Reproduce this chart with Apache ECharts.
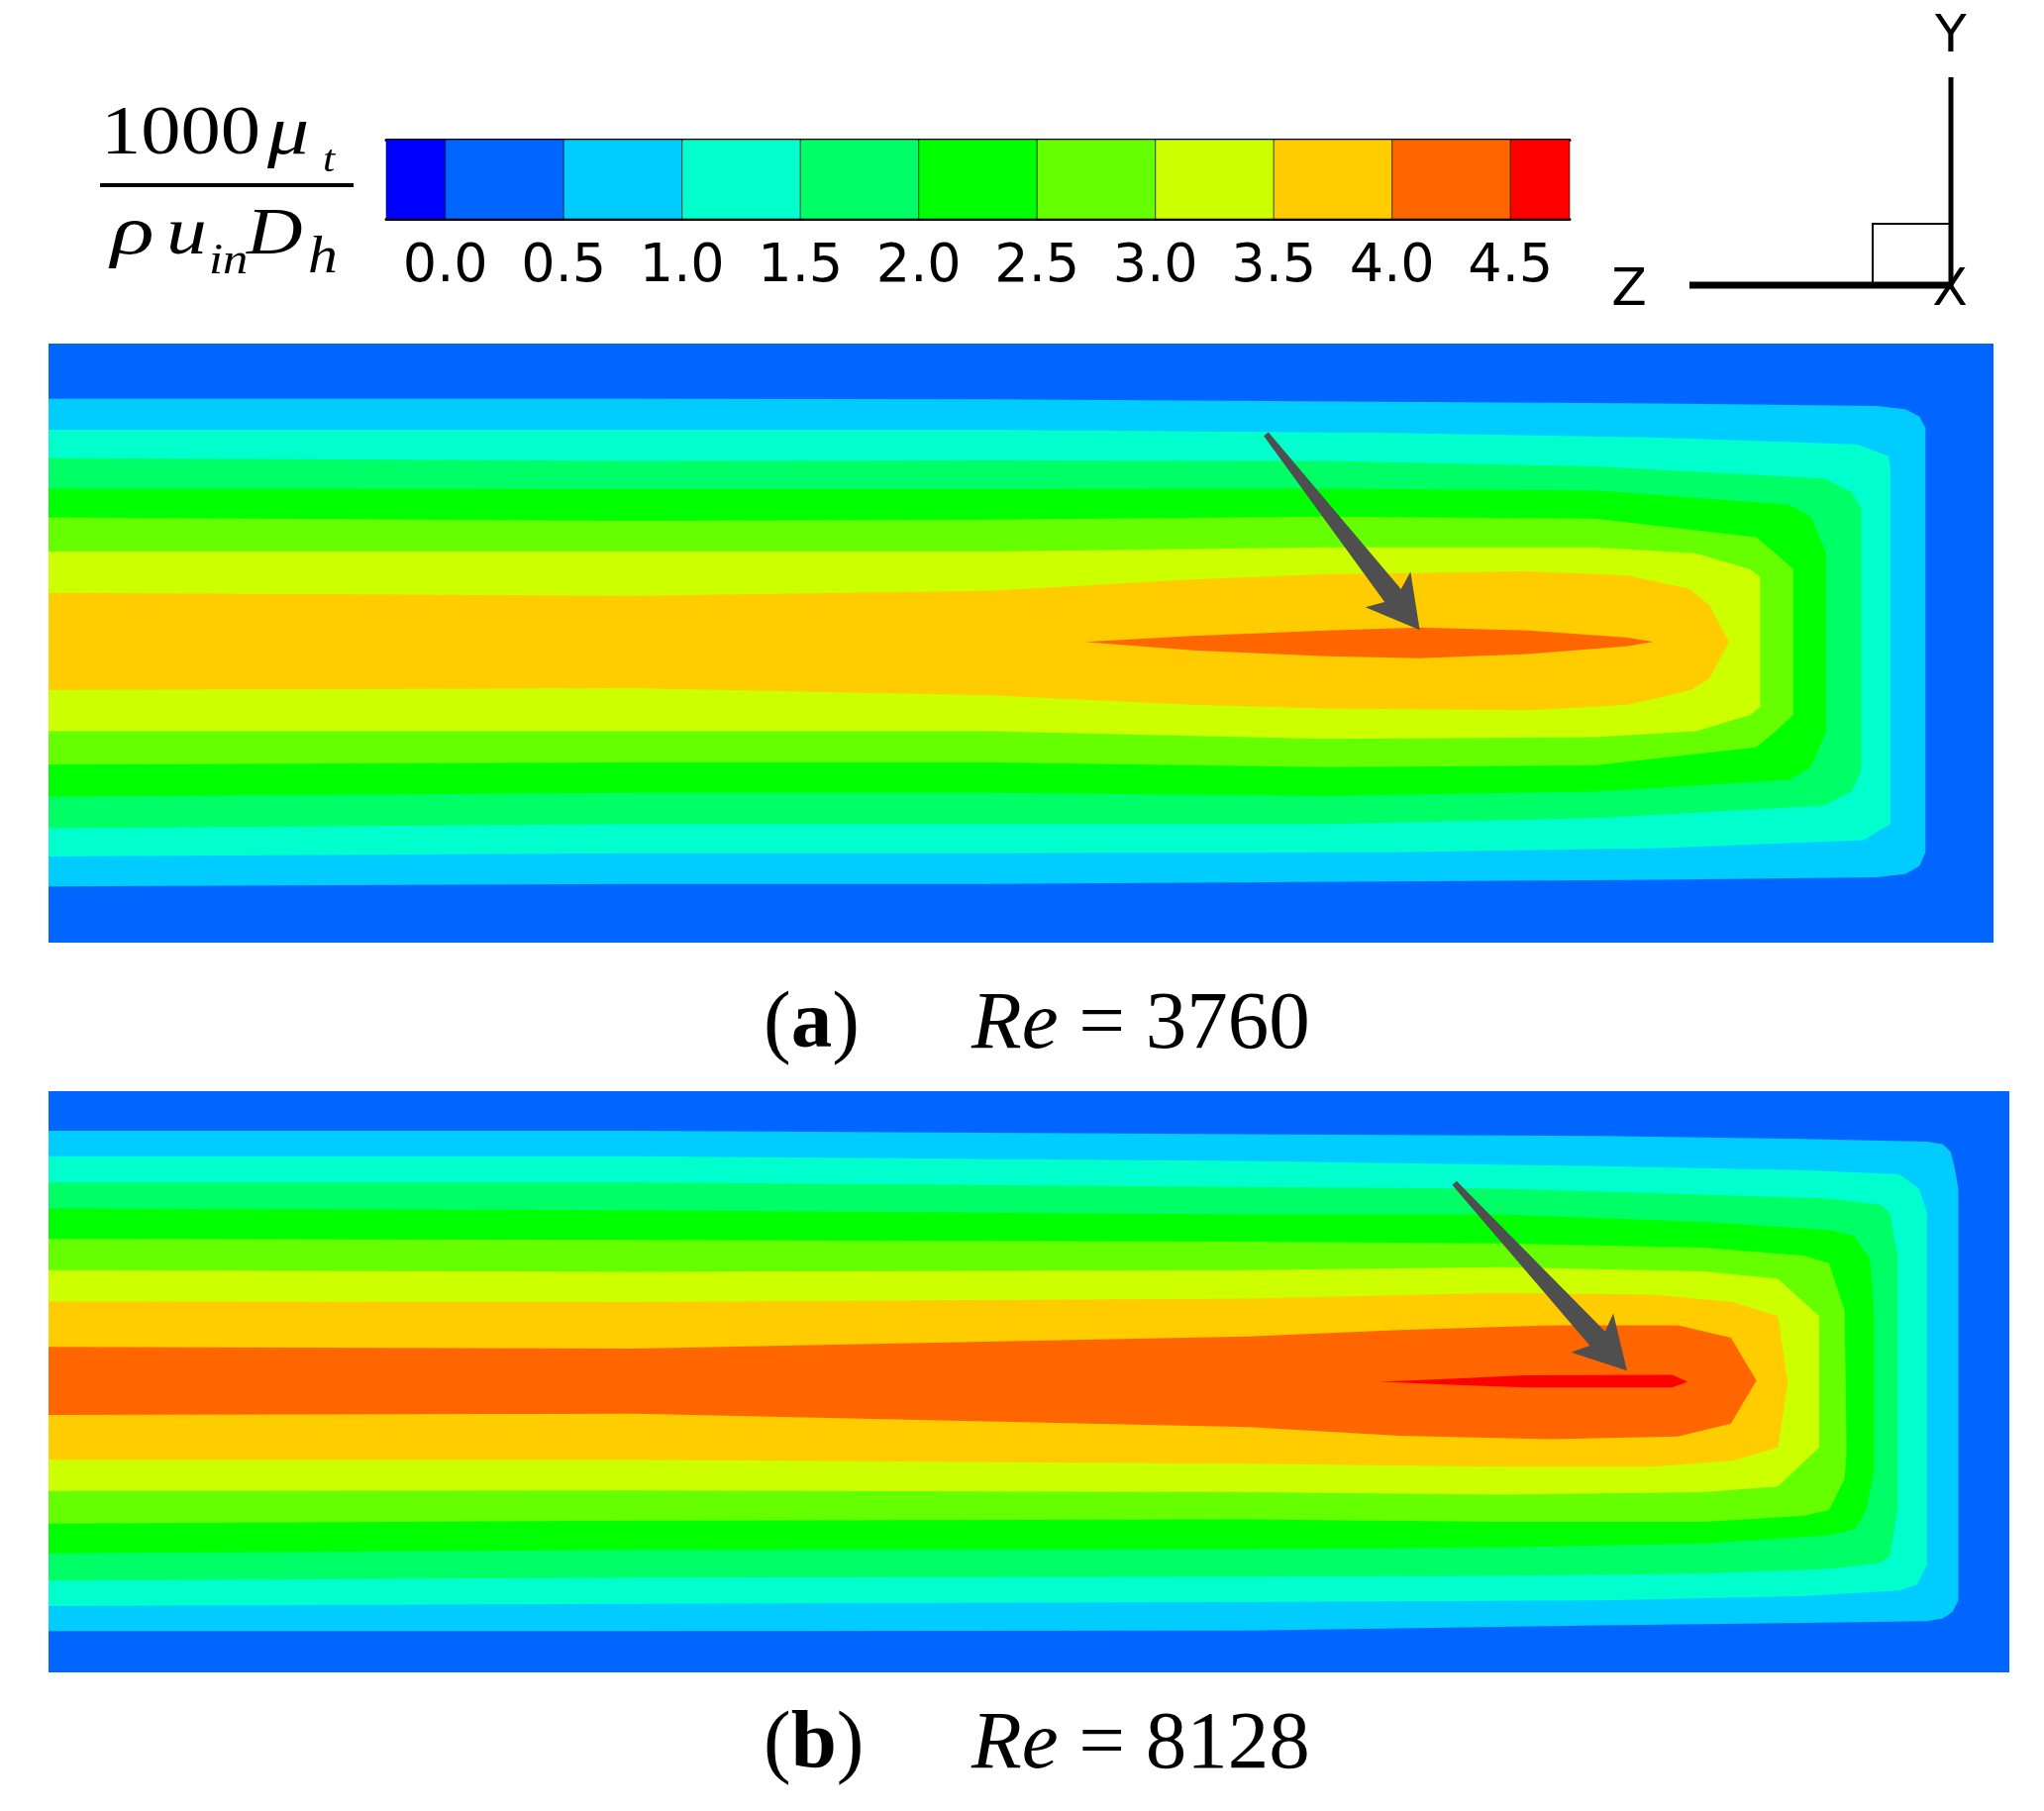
<!DOCTYPE html>
<html>
<head>
<meta charset="utf-8">
<script src="https://cdn.jsdelivr.net/npm/echarts@6/dist/echarts.min.js"></script>
<style>
  html, body { margin: 0; padding: 0; background: #fff; }
  #main { width: 2064px; height: 1829px; }
</style>
</head>
<body>
<div id="main"></div>
<script>
// colour scale (contour levels of 1000*mu_t / (rho*u_in*D_h))
var cbEdges = [-0.25, 0, 0.5, 1.0, 1.5, 2.0, 2.5, 3.0, 3.5, 4.0, 4.5, 4.75];
var cbColors = ['#0000FF', '#0066FF', '#00CCFF', '#00FFCC', '#00FF66', '#00FF00',
                '#66FF00', '#CCFF00', '#FFCC00', '#FF6600', '#FF0000'];
var cbTicks = [0, 0.5, 1.0, 1.5, 2.0, 2.5, 3.0, 3.5, 4.0, 4.5];

// domain: z/L in [0,1], y/H in [-0.5,0.5]
var domain = [[0, -0.5], [1, -0.5], [1, 0.5], [0, 0.5]];

// (a) Re = 3760 : contour lines, [z, y]
var a05 = [[0, 0.408], [0.301, 0.408], [0.484, 0.407], [0.830, 0.400], [0.940, 0.396], [0.955, 0.390], [0.962, 0.378], [0.965, 0.359],
  [0.965, -0.349], [0.962, -0.372], [0.955, -0.385], [0.940, -0.391], [0.830, -0.395], [0.484, -0.402], [0.301, -0.402], [0, -0.406]];
var a10 = [[0, 0.356], [0.301, 0.356], [0.484, 0.356], [0.692, 0.351], [0.830, 0.343], [0.930, 0.332], [0.946, 0.312], [0.947, 0.292],
  [0.947, -0.302], [0.933, -0.329], [0.830, -0.342], [0.692, -0.349], [0.484, -0.351], [0.301, -0.351], [0, -0.356]];
var a15 = [[0, 0.309], [0.301, 0.304], [0.484, 0.305], [0.657, 0.304], [0.795, 0.295], [0.913, 0.275], [0.927, 0.252], [0.932, 0.225],
  [0.932, -0.214], [0.927, -0.248], [0.913, -0.271], [0.795, -0.292], [0.657, -0.302], [0.484, -0.302], [0.301, -0.302], [0, -0.309]];
var a20 = [[0, 0.258], [0.301, 0.257], [0.484, 0.257], [0.657, 0.258], [0.795, 0.255], [0.895, 0.231], [0.906, 0.211], [0.914, 0.150],
  [0.914, -0.147], [0.906, -0.207], [0.895, -0.228], [0.795, -0.248], [0.657, -0.255], [0.484, -0.250], [0.301, -0.250], [0, -0.256]];
var a25 = [[0, 0.210], [0.301, 0.204], [0.484, 0.206], [0.657, 0.211], [0.795, 0.208], [0.878, 0.177], [0.888, 0.150], [0.897, 0.123],
  [0.897, -0.120], [0.888, -0.147], [0.878, -0.174], [0.795, -0.204], [0.657, -0.207], [0.484, -0.199], [0.301, -0.199], [0, -0.203]];
var a30 = [[0, 0.153], [0.301, 0.153], [0.484, 0.153], [0.657, 0.160], [0.795, 0.160], [0.847, 0.150], [0.875, 0.123], [0.880, 0.110],
  [0.880, -0.106], [0.875, -0.120], [0.847, -0.147], [0.795, -0.157], [0.657, -0.160], [0.484, -0.147], [0.301, -0.147], [0, -0.147]];
var a35 = [[0, 0.084], [0.301, 0.079], [0.484, 0.087], [0.588, 0.106], [0.657, 0.115], [0.761, 0.120], [0.812, 0.113], [0.844, 0.090], [0.854, 0.063],
  [0.864, 0.002],
  [0.854, -0.059], [0.844, -0.079], [0.812, -0.103], [0.761, -0.112], [0.657, -0.109], [0.588, -0.103], [0.484, -0.087], [0.301, -0.075], [0, -0.078]];
var a40 = [[0.533, 0.002], [0.588, 0.012], [0.657, 0.021], [0.705, 0.026], [0.761, 0.021], [0.812, 0.009], [0.825, 0.002],
  [0.812, -0.005], [0.761, -0.018], [0.705, -0.025], [0.657, -0.022], [0.588, -0.012]];
var levelsA = [0, 0.5, 1.0, 1.5, 2.0, 2.5, 3.0, 3.5, 4.0];
var arrowA = [0.626, 0.349, 0.705, 0.022];

// (b) Re = 8128
var b05 = [[0, 0.432], [0.299, 0.432], [0.612, 0.426], [0.792, 0.423], [0.895, 0.418], [0.958, 0.413], [0.966, 0.409], [0.970, 0.396], [0.972, 0.370], [0.974, 0.332],
  [0.974, -0.376], [0.971, -0.396], [0.966, -0.407], [0.958, -0.412], [0.895, -0.415], [0.792, -0.419], [0.612, -0.428], [0.299, -0.429], [0, -0.429]];
var b10 = [[0, 0.388], [0.299, 0.388], [0.612, 0.380], [0.792, 0.371], [0.895, 0.364], [0.944, 0.357], [0.954, 0.332], [0.958, 0.291],
  [0.958, -0.315], [0.953, -0.349], [0.944, -0.359], [0.895, -0.369], [0.792, -0.376], [0.612, -0.379], [0.299, -0.382], [0, -0.386]];
var b15 = [[0, 0.343], [0.299, 0.343], [0.612, 0.335], [0.741, 0.332], [0.844, 0.322], [0.908, 0.315], [0.934, 0.305], [0.939, 0.291], [0.943, 0.217],
  [0.943, -0.221], [0.939, -0.301], [0.934, -0.312], [0.908, -0.322], [0.844, -0.330], [0.741, -0.334], [0.612, -0.335], [0.299, -0.337], [0, -0.342]];
var b20 = [[0, 0.298], [0.299, 0.295], [0.612, 0.288], [0.741, 0.288], [0.844, 0.275], [0.908, 0.261], [0.921, 0.251], [0.929, 0.211], [0.931, 0.116],
  [0.931, -0.153], [0.927, -0.221], [0.921, -0.254], [0.908, -0.264], [0.844, -0.278], [0.741, -0.285], [0.612, -0.288], [0.299, -0.289], [0, -0.295]];
var b25 = [[0, 0.246], [0.299, 0.244], [0.612, 0.241], [0.741, 0.238], [0.844, 0.231], [0.895, 0.217], [0.908, 0.204], [0.916, 0.123],
  [0.917, -0.120], [0.916, -0.167], [0.908, -0.221], [0.895, -0.231], [0.844, -0.241], [0.741, -0.241], [0.612, -0.237], [0.299, -0.239], [0, -0.244]];
var b30 = [[0, 0.192], [0.299, 0.189], [0.612, 0.192], [0.741, 0.197], [0.844, 0.190], [0.882, 0.177], [0.903, 0.113],
  [0.903, -0.113], [0.882, -0.180], [0.844, -0.190], [0.741, -0.194], [0.612, -0.190], [0.299, -0.187], [0, -0.188]];
var b35 = [[0, 0.138], [0.299, 0.137], [0.612, 0.143], [0.741, 0.153], [0.818, 0.150], [0.859, 0.137], [0.882, 0.113],
  [0.887, -0.002],
  [0.882, -0.113], [0.859, -0.136], [0.818, -0.146], [0.741, -0.146], [0.612, -0.141], [0.299, -0.134], [0, -0.134]];
var b40 = [[0, 0.060], [0.299, 0.057], [0.612, 0.078], [0.689, 0.089], [0.766, 0.097], [0.831, 0.097], [0.858, 0.076],
  [0.871, 0.002],
  [0.858, -0.072], [0.831, -0.094], [0.766, -0.099], [0.689, -0.093], [0.612, -0.078], [0.299, -0.055], [0, -0.057]];
var b45 = [[0.679, 0.000], [0.715, 0.005], [0.753, 0.011], [0.828, 0.012], [0.836, 0.000], [0.828, -0.010], [0.753, -0.010], [0.715, -0.005]];
var levelsB = [0, 0.5, 1.0, 1.5, 2.0, 2.5, 3.0, 3.5, 4.0, 4.5];
var arrowB = [0.717, 0.342, 0.805, 0.019];

var polysA = [domain, a05, a10, a15, a20, a25, a30, a35, a40];
var polysB = [domain, b05, b10, b15, b20, b25, b30, b35, b40, b45];

var serif = "'Liberation Serif', 'Times New Roman', serif";
var sans = "'DejaVu Sans', Arial, sans-serif";

function bandColor(v) {
  return cbColors[cbEdges.indexOf(v)];
}

function contourRender(polys) {
  return function (params, api) {
    var pts = polys[params.dataIndex].map(function (p) { return api.coord(p); });
    return { type: 'polygon', shape: { points: pts }, style: { fill: bandColor(api.value(0)) } };
  };
}

function arrowRender(params, api) {
  var p0 = api.coord([api.value(0), api.value(1)]);
  var p1 = api.coord([api.value(2), api.value(3)]);
  var dx = p1[0] - p0[0], dy = p1[1] - p0[1];
  var len = Math.sqrt(dx * dx + dy * dy);
  var ux = dx / len, uy = dy / len, nx = -uy, ny = ux;
  var headLen = 52, headHalf = 29, neck = 44, w0 = 3, w1 = 10.5;
  function at(t, w) { return [p1[0] - ux * t + nx * w, p1[1] - uy * t + ny * w]; }
  return {
    type: 'polygon',
    shape: { points: [[p0[0] + nx * w0, p0[1] + ny * w0], at(neck, w1), at(headLen, headHalf), p1,
                      at(headLen, -headHalf), at(neck, -w1), [p0[0] - nx * w0, p0[1] - ny * w0]] },
    style: { fill: '#4f4f4f' }
  };
}

var cbData = [];
for (var i = 0; i < cbColors.length; i++) cbData.push([cbEdges[i], cbEdges[i + 1], i]);

function txt(text, x, y, font, sx) {
  return { type: 'text', x: x, y: y, scaleX: sx || 1, z: 10,
    style: { text: text, font: font, fill: '#000', textAlign: 'left', textVerticalAlign: 'middle' } };
}

var chart = echarts.init(document.getElementById('main'), null, { renderer: 'canvas' });

chart.setOption({
  backgroundColor: '#fff',
  animation: false,
  grid: [
    { left: 390, top: 141, width: 1195, height: 80 },
    { left: 49, top: 347, width: 1964, height: 605 },
    { left: 49, top: 1102, width: 1980, height: 587 }
  ],
  xAxis: [
    { gridIndex: 0, type: 'value', min: -0.25, max: 4.75, position: 'bottom',
      axisLine: { show: true, lineStyle: { color: '#000', width: 3 } },
      axisTick: { show: false }, splitLine: { show: false },
      axisLabel: { customValues: cbTicks, margin: 22, color: '#000', fontFamily: sans, fontSize: 54,
        formatter: function (v) { return v.toFixed(1); } } },
    { gridIndex: 1, type: 'value', min: 0, max: 1, show: false },
    { gridIndex: 2, type: 'value', min: 0, max: 1, show: false },
    { gridIndex: 0, type: 'value', min: -0.25, max: 4.75, position: 'top',
      axisLine: { show: true, lineStyle: { color: '#000', width: 3 } },
      axisTick: { show: false }, axisLabel: { show: false }, splitLine: { show: false } }
  ],
  yAxis: [
    { gridIndex: 0, type: 'value', min: 0, max: 1, show: false },
    { gridIndex: 1, type: 'value', min: -0.5, max: 0.5, show: false },
    { gridIndex: 2, type: 'value', min: -0.5, max: 0.5, show: false }
  ],
  series: [
    { type: 'custom', xAxisIndex: 0, yAxisIndex: 0, data: cbData,
      renderItem: function (params, api) {
        var a = api.coord([api.value(0), 1]);
        var b = api.coord([api.value(1), 0]);
        return { type: 'rect', shape: { x: a[0], y: a[1], width: b[0] - a[0], height: b[1] - a[1] },
          style: { fill: cbColors[api.value(2)], stroke: 'rgba(0,0,0,0.55)', lineWidth: 1 } };
      } },
    { type: 'custom', xAxisIndex: 1, yAxisIndex: 1, data: levelsA.map(function (v) { return [v]; }),
      renderItem: contourRender(polysA) },
    { type: 'custom', xAxisIndex: 1, yAxisIndex: 1, z: 5, data: [arrowA], encode: { x: [0, 2], y: [1, 3] },
      renderItem: arrowRender },
    { type: 'custom', xAxisIndex: 2, yAxisIndex: 2, data: levelsB.map(function (v) { return [v]; }),
      renderItem: contourRender(polysB) },
    { type: 'custom', xAxisIndex: 2, yAxisIndex: 2, z: 5, data: [arrowB], encode: { x: [0, 2], y: [1, 3] },
      renderItem: arrowRender }
  ],
  graphic: [
    // colour bar title: 1000 mu_t / (rho u_in D_h)
    txt('1000', 102, 137, '70px ' + serif, 1.15),
    txt('\u03bc', 270, 137, 'italic 70px ' + serif, 1.2),
    txt('t', 326, 163, 'italic 38px ' + serif, 1.15),
    { type: 'line', shape: { x1: 101, y1: 187, x2: 357, y2: 187 }, style: { stroke: '#000', lineWidth: 4 } },
    txt('\u03c1', 112, 238, 'italic 70px ' + serif, 1.3),
    txt('u', 168, 238, 'italic 68px ' + serif, 1.2),
    txt('in', 211, 264, 'italic 44px ' + serif, 1.15),
    txt('D', 249, 238, 'italic 68px ' + serif, 1.15),
    txt('h', 311, 261, 'italic 52px ' + serif, 1.15),
    // axis triad
    { type: 'text', x: 1969, y: 294, z: 10, style: { text: 'X', font: '52px ' + sans, fill: '#000', textAlign: 'center', textVerticalAlign: 'middle' } },
    { type: 'rect', z: 11, shape: { x: 1891, y: 226, width: 79, height: 62 }, style: { fill: '#fff', stroke: '#000', lineWidth: 2 } },
    { type: 'line', z: 12, shape: { x1: 1970, y1: 78, x2: 1970, y2: 291 }, style: { stroke: '#000', lineWidth: 5 } },
    { type: 'line', z: 12, shape: { x1: 1706, y1: 288, x2: 1972, y2: 288 }, style: { stroke: '#000', lineWidth: 7 } },
    { type: 'text', x: 1970, y: 38, z: 10, style: { text: 'Y', font: '52px ' + sans, fill: '#000', textAlign: 'center', textVerticalAlign: 'middle' } },
    { type: 'text', x: 1645, y: 294, z: 10, style: { text: 'Z', font: '52px ' + sans, fill: '#000', textAlign: 'center', textVerticalAlign: 'middle' } },
    // captions
    { type: 'text', x: 771, y: 1036, z: 10, style: { text: '{n|(}{b|a}{n|)}', textVerticalAlign: 'middle',
      rich: { n: { font: '83px ' + serif, fill: '#000' }, b: { font: 'bold 83px ' + serif, fill: '#000' } } } },
    { type: 'text', x: 981, y: 1036, z: 10, style: { text: '{i|Re}{n| = 3760}', textVerticalAlign: 'middle',
      rich: { n: { font: '83px ' + serif, fill: '#000' }, i: { font: 'italic 83px ' + serif, fill: '#000' } } } },
    { type: 'text', x: 771, y: 1763, z: 10, style: { text: '{n|(}{b|b}{n|)}', textVerticalAlign: 'middle',
      rich: { n: { font: '83px ' + serif, fill: '#000' }, b: { font: 'bold 83px ' + serif, fill: '#000' } } } },
    { type: 'text', x: 981, y: 1763, z: 10, style: { text: '{i|Re}{n| = 8128}', textVerticalAlign: 'middle',
      rich: { n: { font: '83px ' + serif, fill: '#000' }, i: { font: 'italic 83px ' + serif, fill: '#000' } } } }
  ]
});

window.addEventListener('resize', function () {
  chart.resize();
});
</script>
</body>
</html>
